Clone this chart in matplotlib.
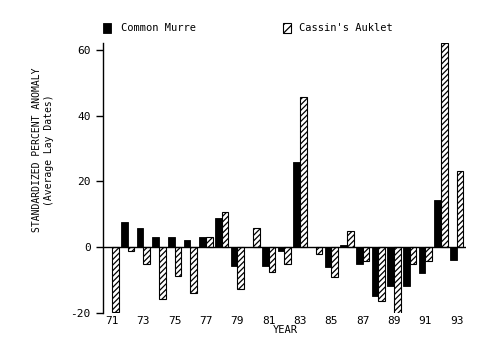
import matplotlib
matplotlib.use("Agg")
import matplotlib.pyplot as plt
import numpy as np

years = list(range(1971, 1994))
murre = [0, 7.7, 5.8, 3.0, 3.0, 2.1, 3.0, 8.8, -5.8, 0, -5.8, -1.2, 26.0, 0, -6.0, 0.8, -5.0, -14.8, -11.8, -11.8, -7.8, 14.5, -3.8]
auklet = [-19.8, -1.2, -5.0, -15.7, -8.8, -13.8, 3.0, 10.8, -12.6, 6.0, -7.6, -5.0, 45.8, -2.2, -9.0, 5.0, -4.2, -16.5, -20.6, -5.0, -4.2, 62.0, 23.2]
xtick_years = [71, 73, 75, 77, 79, 81, 83, 85, 87, 89, 91, 93]
yticks = [-20, 0, 20, 40, 60]

plt.rcParams['font.family'] = ['DejaVu Sans Mono']
plt.rcParams['hatch.linewidth'] = 0.9

fig = plt.figure(figsize=(5.03, 3.64), dpi=100)
ax = fig.add_axes([0.2048, 0.1401, 0.7216, 0.7407])

x = np.array([y - 1900 for y in years])
w = 0.42
ax.bar(x - w / 2, murre, width=w, color='black', edgecolor='black', linewidth=0.6)
ax.bar(x + w / 2, auklet, width=w, color='white', edgecolor='black', hatch='//////', linewidth=0.8)

ax.axhline(0, color='black', linewidth=1.0)
ax.set_xlim(70.42, 93.6)
ax.set_ylim(-20, 62)

for s in ['top', 'right', 'bottom']:
    ax.spines[s].set_visible(False)
ax.spines['left'].set_linewidth(1.0)
ax.spines['left'].set_bounds(-20, 62)

ax.set_yticks(yticks)
ax.set_yticklabels([str(v) for v in yticks], fontsize=8)
ax.tick_params(axis='y', direction='out', length=5, width=1.0, pad=4)
ax.set_xticks(xtick_years)
ax.set_xticklabels([str(v) for v in xtick_years], fontsize=8)
ax.tick_params(axis='x', length=0, pad=2)

fig.text(285 / 503, 1 - 330 / 364, 'YEAR', fontsize=7.5, ha='center', va='center')
fig.text(37 / 503, 1 - 150 / 364, 'STANDARDIZED PERCENT ANOMALY', fontsize=7, rotation=90,
         ha='center', va='center')
fig.text(49 / 503, 1 - 150 / 364, '(Average Lay Dates)', fontsize=7, rotation=90,
         ha='center', va='center')

# legend
from matplotlib.patches import Rectangle
fig.patches.append(Rectangle((103 / 503, 1 - 33 / 364), 8 / 503, 10 / 364, transform=fig.transFigure,
                             facecolor='black', edgecolor='black', linewidth=0.6))
fig.text(121 / 503, 1 - 28 / 364, 'Common Murre', fontsize=7.5, ha='left', va='center')
fig.patches.append(Rectangle((283 / 503, 1 - 33 / 364), 8 / 503, 10 / 364, transform=fig.transFigure,
                             facecolor='white', edgecolor='black', hatch='////', linewidth=0.8))
fig.text(299 / 503, 1 - 28 / 364, "Cassin's Auklet", fontsize=7.5, ha='left', va='center')

fig.savefig('out.png', dpi=100)
